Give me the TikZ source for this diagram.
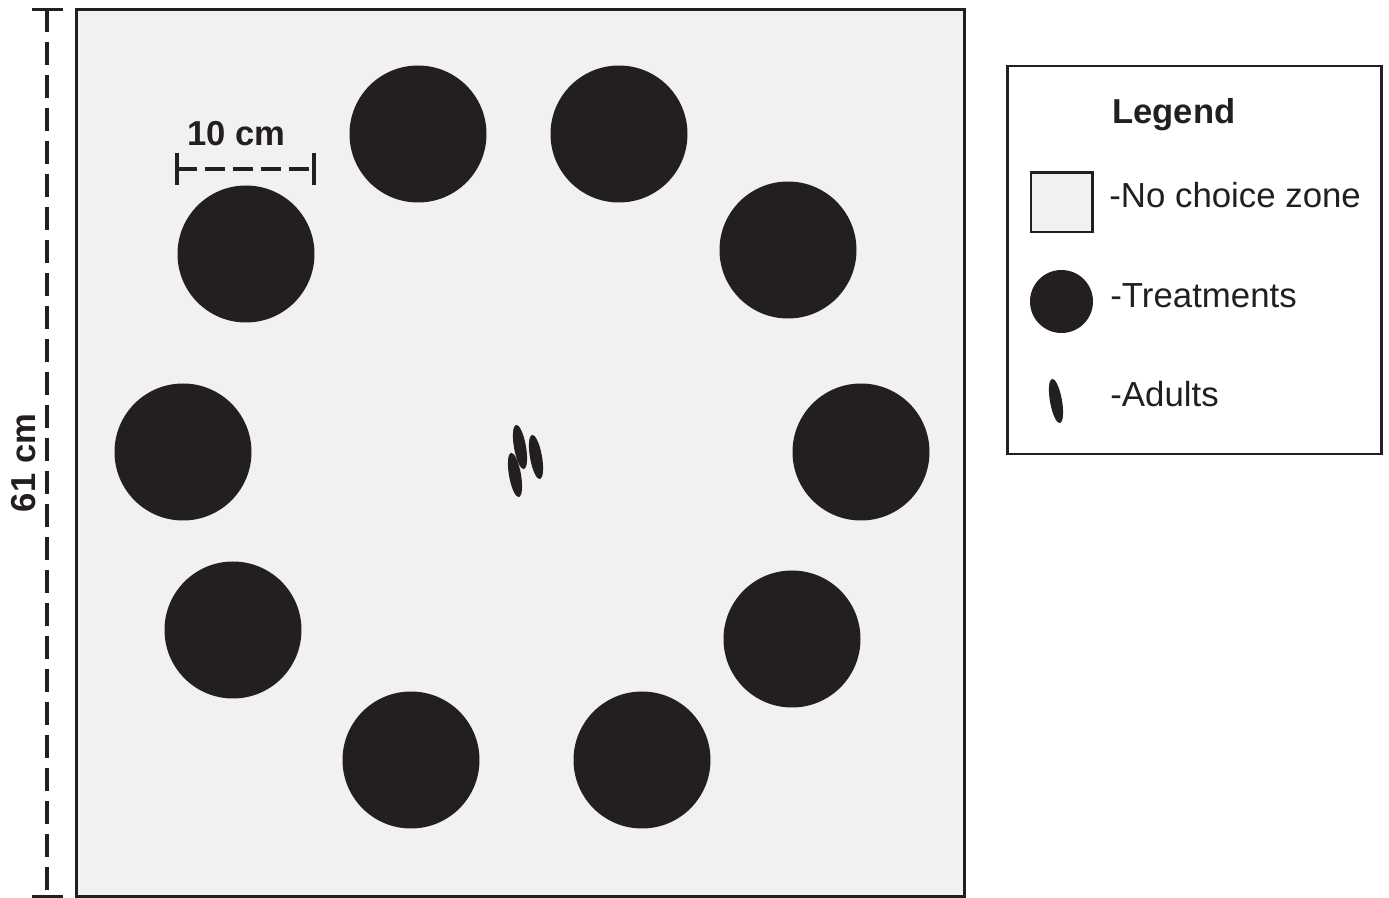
\documentclass[tikz,border=0pt]{standalone}
\usepackage{fontspec}
\setmainfont{Liberation Sans}
\usetikzlibrary{shapes.geometric}
\definecolor{ink}{RGB}{35,31,32}
\definecolor{zone}{RGB}{241,241,241}
\begin{document}
\begin{tikzpicture}[x=0.5pt,y=-0.5pt,
  treat/.style={circle,fill=ink,inner sep=0pt,minimum size=68.5pt},
  adult/.style={ellipse,fill=ink,inner sep=0pt,minimum width=6pt,minimum height=22.5pt,rotate=10},
  dimline/.style={ink,line width=1.6pt,dash pattern=on 11.5pt off 5pt},
  tick/.style={ink,line width=1.6pt},
  lbl/.style={font=\fontsize{17.3}{20}\selectfont\bfseries,text=ink,inner sep=0pt},
  txt/.style={font=\fontsize{17.4}{20}\selectfont,text=ink,inner sep=0pt,anchor=base west}]
\useasboundingbox (0,0) rectangle (1389,898);
% arena
\filldraw[fill=zone,draw=ink,line width=1.5pt] (76,9.5) rectangle (964.5,896.5);
% treatments
\node[treat] (t1) at (418,134) {};
\node[treat] (t2) at (619,134) {};
\node[treat] (t3) at (788,250) {};
\node[treat] (t4) at (861,452) {};
\node[treat] (t5) at (792,639) {};
\node[treat] (t6) at (642,760) {};
\node[treat] (t7) at (411,760) {};
\node[treat] (t8) at (233,630) {};
\node[treat] (t9) at (183,452) {};
\node[treat] (t10) at (246,254) {};
% adults
\node[adult] (a1) at (520,447) {};
\node[adult] (a2) at (536,457) {};
\node[adult] (a3) at (515,475) {};
% 61 cm dimension
\coordinate (vt) at (47,9.5);
\coordinate (vb) at (47,896.5);
\draw[dimline] (vt) -- (vb);
\draw[tick] (32,9.5) -- (63,9.5);
\draw[tick] (32,896.5) -- (63,896.5);
\node[lbl,rotate=90,anchor=base] (l61) at (35,463) {61 cm};
% 10 cm dimension
\coordinate (hl) at (177,169);
\coordinate (hr) at (314,169);
\draw[dimline,dash pattern=on 10pt off 4pt] (hl) -- (hr);
\draw[tick] (177,153) -- (177,185);
\draw[tick] (314,153) -- (314,185);
\node[lbl,anchor=base] (l10) at (236.5,146) {10 cm};
% legend
\draw[ink,line width=1.2pt] (1007.5,66) rectangle (1381.5,454);
\node[lbl,anchor=base west] (lt) at (1112,124) {Legend};
\filldraw[fill=zone,draw=ink,line width=1.2pt] (1031,172.5) rectangle (1092.5,232);
\node[txt] (lz) at (1109,208) {-No choice zone};
\node[circle,fill=ink,inner sep=0pt,minimum size=31.5pt] (lc) at (1061.5,301.5) {};
\node[txt] (ltr) at (1110,308) {-Treatments};
\node[adult] (la) at (1056,401) {};
\node[txt] (lad) at (1110,407) {-Adults};
\end{tikzpicture}
\end{document}
